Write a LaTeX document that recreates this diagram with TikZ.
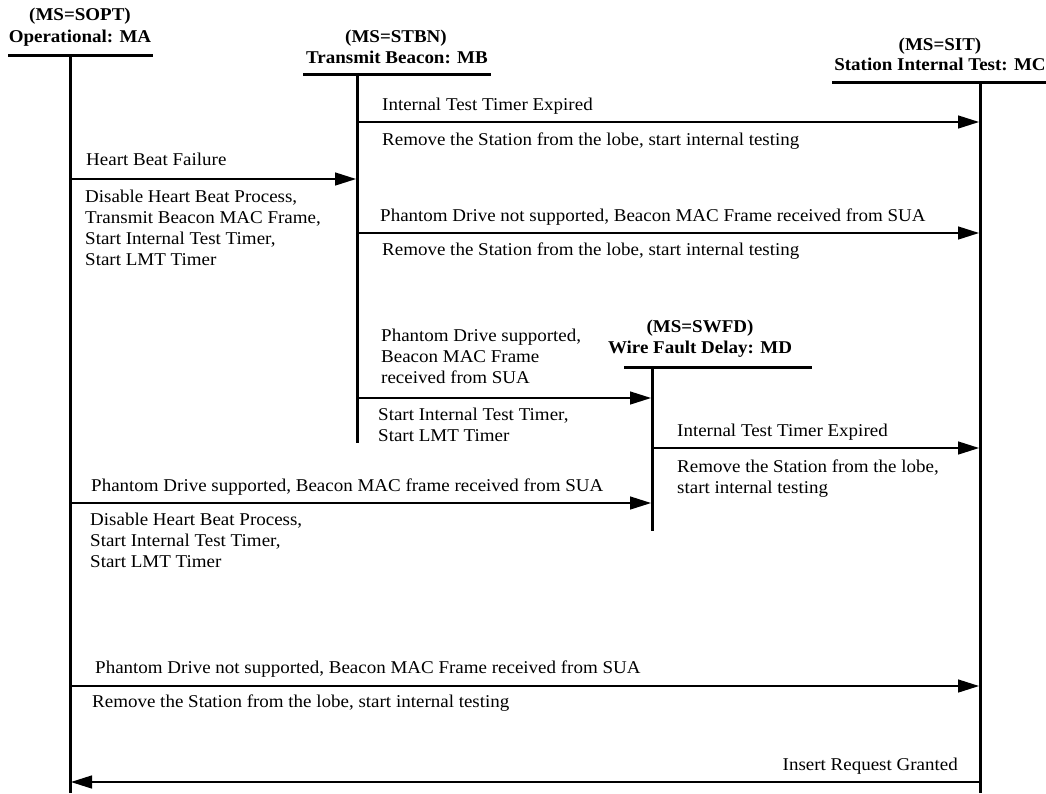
\documentclass[tikz,border=0pt]{standalone}
\usepackage{fontspec}
\setmainfont{Liberation Serif}[FakeStretch=1.055]
\usetikzlibrary{arrows.meta}
\begin{document}
\begin{tikzpicture}[x=1pt,y=-1pt,
  lbl/.style={anchor=base west,inner sep=0pt,font=\fontsize{18}{21}\selectfont},
  lblr/.style={anchor=base east,inner sep=0pt,font=\fontsize{18}{21}\selectfont},
  hdr/.style={anchor=base,inner sep=0pt,font=\fontsize{18}{21}\selectfont\bfseries},
  bar/.style={line width=3pt},
  life/.style={line width=3pt},
  msg/.style={line width=1.4pt,-{Triangle[length=21pt,width=13pt]}}]
\useasboundingbox (0,0) rectangle (1046,793);
% headers
\node[hdr] (MAh1) at (80,20) {(MS=SOPT)};
\node[hdr] (MAh2) at (80,42) {Operational: MA};
\node[hdr] (MBh1) at (396,42) {(MS=STBN)};
\node[hdr] (MBh2) at (397,63) {Transmit Beacon: MB};
\node[hdr] (MCh1) at (940,50) {(MS=SIT)};
\node[hdr] (MCh2) at (940,70) {Station Internal Test: MC};
\node[hdr] (MDh1) at (700,332) {(MS=SWFD)};
\node[hdr] (MDh2) at (700,353) {Wire Fault Delay: MD};
% header bars
\coordinate (MAbl) at (8,55); \coordinate (MAbr) at (153,55);
\coordinate (MBbl) at (303,74); \coordinate (MBbr) at (491,74);
\coordinate (MCbl) at (832,82); \coordinate (MCbr) at (1046,82);
\coordinate (MDbl) at (624,367); \coordinate (MDbr) at (812,367);
\draw[bar] (MAbl) -- (MAbr);
\draw[bar] (MBbl) -- (MBbr);
\draw[bar] (MCbl) -- (MCbr);
\draw[bar] (MDbl) -- (MDbr);
% lifelines
\coordinate (MAt) at (70,55);  \coordinate (MAb) at (70,793);
\coordinate (MBt) at (357,74); \coordinate (MBb) at (357,443);
\coordinate (MCt) at (980,82); \coordinate (MCb) at (980,793);
\coordinate (MDt) at (652,367); \coordinate (MDb) at (652,531);
\draw[life] (MAt) -- (MAb);
\draw[life] (MBt) -- (MBb);
\draw[life] (MCt) -- (MCb);
\draw[life] (MDt) -- (MDb);
% message endpoints
\coordinate (m1s) at (357,122); \coordinate (m1e) at (979,122);
\coordinate (m2s) at (70,179);  \coordinate (m2e) at (356,179);
\coordinate (m3s) at (357,233); \coordinate (m3e) at (979,233);
\coordinate (m4s) at (357,398); \coordinate (m4e) at (651,398);
\coordinate (m5s) at (652,448); \coordinate (m5e) at (979,448);
\coordinate (m6s) at (70,503);  \coordinate (m6e) at (651,503);
\coordinate (m7s) at (70,686);  \coordinate (m7e) at (979,686);
\coordinate (m8s) at (980,782); \coordinate (m8e) at (71,782);
\draw[msg] (m1s) -- (m1e);
\draw[msg] (m2s) -- (m2e);
\draw[msg] (m3s) -- (m3e);
\draw[msg] (m4s) -- (m4e);
\draw[msg] (m5s) -- (m5e);
\draw[msg] (m6s) -- (m6e);
\draw[msg] (m7s) -- (m7e);
\draw[msg] (m8s) -- (m8e);
% labels
\node[lbl] (t1a) at (382,110) {Internal Test Timer Expired};
\node[lbl] (t1b) at (382,145) {Remove the Station from the lobe, start internal testing};
\node[lbl] (t2a) at (86,165) {Heart Beat Failure};
\node[lbl] (t2b) at (85,202) {Disable Heart Beat Process,};
\node[lbl] (t2c) at (85,223) {Transmit Beacon MAC Frame,};
\node[lbl] (t2d) at (85,244) {Start Internal Test Timer,};
\node[lbl] (t2e) at (85,265) {Start LMT Timer};
\node[lbl] (t3a) at (380,221) {Phantom Drive not supported, Beacon MAC Frame received from SUA};
\node[lbl] (t3b) at (382,255) {Remove the Station from the lobe, start internal testing};
\node[lbl] (t4a) at (381,341) {Phantom Drive supported,};
\node[lbl] (t4b) at (381,362) {Beacon MAC Frame};
\node[lbl] (t4c) at (381,383) {received from SUA};
\node[lbl] (t4d) at (378,420) {Start Internal Test Timer,};
\node[lbl] (t4e) at (378,441) {Start LMT Timer};
\node[lbl] (t5a) at (677,436) {Internal Test Timer Expired};
\node[lbl] (t5b) at (677,472) {Remove the Station from the lobe,};
\node[lbl] (t5c) at (677,493) {start internal testing};
\node[lbl] (t6a) at (91,491) {Phantom Drive supported, Beacon MAC frame received from SUA};
\node[lbl] (t6b) at (90,525) {Disable Heart Beat Process,};
\node[lbl] (t6c) at (90,546) {Start Internal Test Timer,};
\node[lbl] (t6d) at (90,567) {Start LMT Timer};
\node[lbl] (t7a) at (95,673) {Phantom Drive not supported, Beacon MAC Frame received from SUA};
\node[lbl] (t7b) at (92,707) {Remove the Station from the lobe, start internal testing};
\node[lblr] (t8a) at (958,770) {Insert Request Granted};
\end{tikzpicture}
\end{document}
